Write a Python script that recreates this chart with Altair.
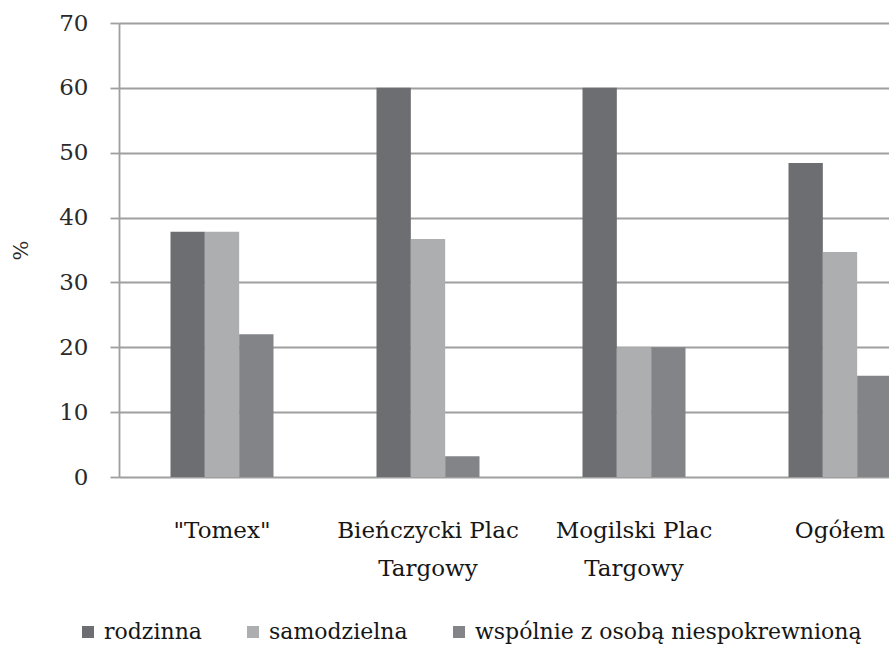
import altair as alt
import pandas as pd

# Household type shares (%) by marketplace
places = ['"Tomex"', "Bieńczycki Plac Targowy", "Mogilski Plac Targowy", "Ogółem"]
types = ["rodzinna", "samodzielna", "wspólnie z osobą niespokrewnioną"]
rodzinna = [37.8, 60.0, 60.0, 48.4]
samodzielna = [37.8, 36.7, 20.0, 34.7]
wspolnie = [22.0, 3.2, 20.0, 15.6]
colors = ["#6d6e71", "#acaeb0", "#838488"]

rows = []
for i, p in enumerate(places):
    for t, vals in zip(types, [rodzinna, samodzielna, wspolnie]):
        rows.append({"miejsce": p, "typ": t, "procent": vals[i]})
df = pd.DataFrame(rows)

FONT = "DejaVu Serif"
TEXT = "#161616"

bars = alt.Chart(df).mark_bar().encode(
    x=alt.X(
        "miejsce:N",
        sort=places,
        scale=alt.Scale(range=[0, 824], paddingInner=0.5, paddingOuter=0.25),
        axis=alt.Axis(
            title=None,
            domain=False,
            ticks=False,
            grid=False,
            labelAngle=0,
            labelFont=FONT,
            labelFontSize=23,
            labelColor=TEXT,
            labelPadding=42,
            labelLineHeight=38,
            labelBaseline="top",
            labelLimit=0,
            labelExpr="indexof(datum.label, ' Targowy') > 0 ? [replace(datum.label, ' Targowy', ''), 'Targowy'] : datum.label",
        ),
    ),
    xOffset=alt.XOffset("typ:N", sort=types, scale=alt.Scale(paddingInner=0, paddingOuter=0)),
    y=alt.Y(
        "procent:Q",
        scale=alt.Scale(domain=[0, 70], nice=False),
        axis=alt.Axis(
            title="%",
            values=[0, 10, 20, 30, 40, 50, 60, 70],
            grid=True,
            gridColor="#9f9f9f",
            gridWidth=1.8,
            domainColor="#9f9f9f",
            domainWidth=1.8,
            tickColor="#9f9f9f",
            tickWidth=1.8,
            tickSize=9,
            labelFont=FONT,
            labelFontSize=23,
            labelColor="#2a2a2a",
            labelPadding=22,
            titleFont=FONT,
            titleFontSize=21,
            titleFontWeight="normal",
            titleColor="#2a2a2a",
            titleAngle=270,
            titleX=-98,
            titleY=227,
            titleAlign="center",
            titleBaseline="middle",
        ),
    ),
    color=alt.Color(
        "typ:N",
        sort=types,
        scale=alt.Scale(domain=types, range=colors),
        legend=alt.Legend(
            title=None,
            orient="none",
            direction="horizontal",
            legendX=-42,
            legendY=598,
            symbolType="square",
            symbolSize=144,
            symbolStrokeWidth=0,
            symbolOpacity=1,
            labelFont=FONT,
            labelFontSize=22,
            labelColor=TEXT,
            labelOffset=5,
            labelLimit=0,
            columnPadding=40,
        ),
    ),
)

chart = bars.properties(
    width=770,
    height=454,
    autosize=alt.AutoSizeParams(type="none"),
    padding={"left": 119, "top": 23, "right": 0, "bottom": 169},
).configure_view(stroke=None).configure(background="white")

chart.save("out.html", embed_options={"renderer": "svg", "actions": False})
